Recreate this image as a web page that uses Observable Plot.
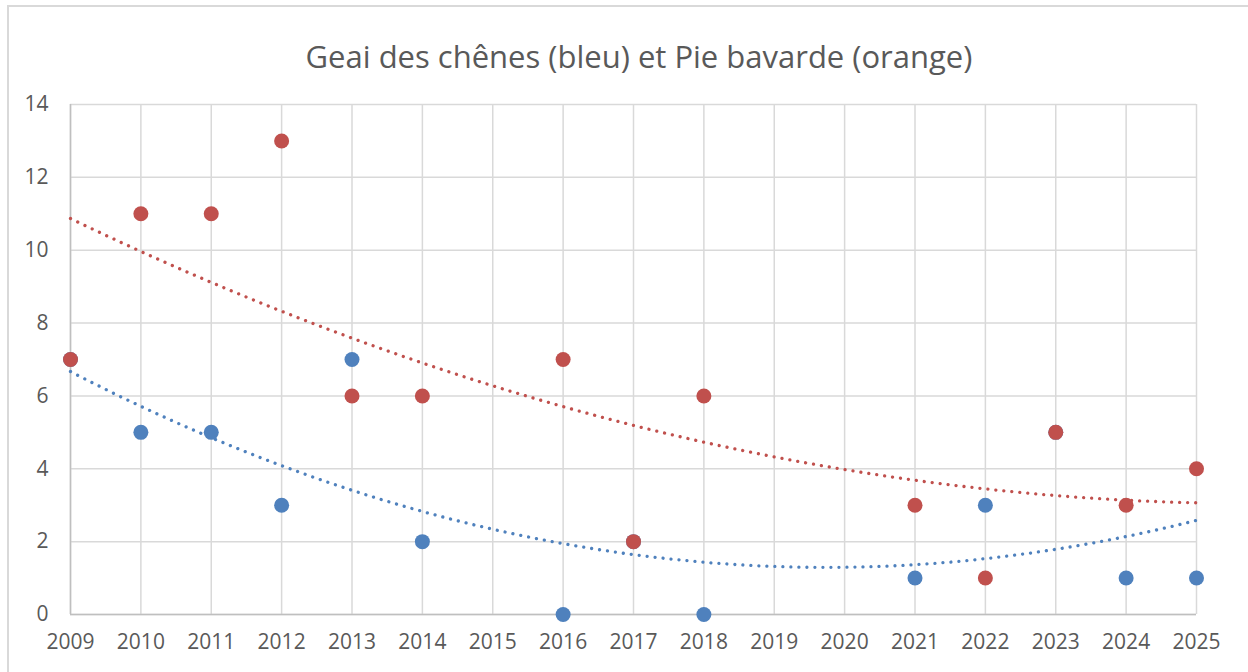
<!DOCTYPE html>
<html>
<head>
<meta charset="utf-8">
<script src="https://cdn.jsdelivr.net/npm/d3@7"></script>
<script src="https://cdn.jsdelivr.net/npm/@observablehq/plot@0.6"></script>
<style>
  html, body { margin: 0; padding: 0; background: #fff; }
  #wrap { position: relative; width: 1248px; height: 672px; overflow: hidden; font-family: "Open Sans", sans-serif; }
  #frame { position: absolute; left: 7px; top: 5px; width: 1300px; height: 700px; border-top: 2px solid #d9d9d9; border-left: 2px solid #d9d9d9; box-sizing: border-box; }
  #title { position: absolute; top: 0; left: 0; width: 1278px; height: 84px; line-height: 112px; text-align: center; font-size: 31px; color: #595959; }
  #chart { position: absolute; top: 0; left: 0; }
</style>
</head>
<body>
<div id="wrap">
  <div id="frame"></div>
  <div id="chart"></div>
  <div id="title">Geai des chênes (bleu) et Pie bavarde (orange)</div>
</div>
<script>
const years = [2009, 2010, 2011, 2012, 2013, 2014, 2015, 2016, 2017, 2018, 2019, 2020, 2021, 2022, 2023, 2024, 2025];
const geai  = [7, 5, 5, 3, 7, 2, null, 0, 2, 0, null, null, 1, 3, 5, 1, 1];
const pie   = [7, 11, 11, 13, 6, 6, null, 7, 2, 6, null, null, 3, 1, 5, 3, 4];
const yTicks = [0, 2, 4, 6, 8, 10, 12, 14];

const blue = "#4F81BD";
const red = "#C0504D";

function toPoints(vals, name) {
  return years.map((y, i) => ({year: y, value: vals[i], series: name})).filter(d => d.value != null);
}
const geaiPts = toPoints(geai, "geai");
const piePts = toPoints(pie, "pie");

// polynomial (order 2) least-squares trendline, as in the spreadsheet
function quadFit(pts) {
  const x0 = years[0];
  let S = [0, 0, 0, 0, 0], T = [0, 0, 0];
  for (const p of pts) {
    const x = p.year - x0, y = p.value;
    for (let k = 0; k < 5; k++) S[k] += Math.pow(x, k);
    for (let k = 0; k < 3; k++) T[k] += Math.pow(x, k) * y;
  }
  const A = [[S[0], S[1], S[2], T[0]], [S[1], S[2], S[3], T[1]], [S[2], S[3], S[4], T[2]]];
  for (let i = 0; i < 3; i++) {
    for (let j = i + 1; j < 3; j++) {
      const f = A[j][i] / A[i][i];
      for (let k = i; k < 4; k++) A[j][k] -= f * A[i][k];
    }
  }
  const c = [0, 0, 0];
  for (let i = 2; i >= 0; i--) {
    let s = A[i][3];
    for (let k = i + 1; k < 3; k++) s -= A[i][k] * c[k];
    c[i] = s / A[i][i];
  }
  const first = years[0], last = years[years.length - 1];
  const out = [];
  const n = 160;
  for (let i = 0; i <= n; i++) {
    const yr = first + (last - first) * i / n;
    const x = yr - x0;
    out.push({year: yr, value: c[0] + c[1] * x + c[2] * x * x});
  }
  return out;
}
const geaiTrend = quadFit(geaiPts);
const pieTrend = quadFit(piePts);

const chart = Plot.plot({
  width: 1248,
  height: 672,
  marginLeft: 70,
  marginRight: 52,
  marginTop: 104,
  marginBottom: 58,
  style: {fontFamily: "Open Sans, sans-serif", background: "transparent", overflow: "visible"},
  x: {domain: [years[0], years[years.length - 1]]},
  y: {domain: [0, 14]},
  marks: [
    Plot.gridX(years, {stroke: "#d9d9d9", strokeOpacity: 1, strokeWidth: 1.5}),
    Plot.gridY(yTicks, {stroke: "#d9d9d9", strokeOpacity: 1, strokeWidth: 1.5}),
    Plot.ruleX([years[0]], {stroke: "#bfbfbf", strokeWidth: 1.5}),
    Plot.ruleY([0], {stroke: "#bfbfbf", strokeWidth: 1.5}),
    Plot.axisX(years, {tickSize: 0, tickPadding: 20, tickFormat: d => String(d), fontSize: 21, fill: "#595959", label: null}),
    Plot.axisY(yTicks, {tickSize: 0, tickPadding: 22, fontSize: 21, fill: "#595959", label: null}),
    Plot.line(geaiTrend, {x: "year", y: "value", stroke: blue, strokeWidth: 3.3, strokeDasharray: "0.01 8", strokeLinecap: "round", curve: "linear"}),
    Plot.line(pieTrend, {x: "year", y: "value", stroke: red, strokeWidth: 3.3, strokeDasharray: "0.01 8", strokeLinecap: "round", curve: "linear"}),
    Plot.dot(geaiPts, {x: "year", y: "value", r: 7.5, fill: blue, stroke: "none"}),
    Plot.dot(piePts, {x: "year", y: "value", r: 7.5, fill: red, stroke: "none"})
  ]
});
document.getElementById("chart").appendChild(chart);
</script>
</body>
</html>
